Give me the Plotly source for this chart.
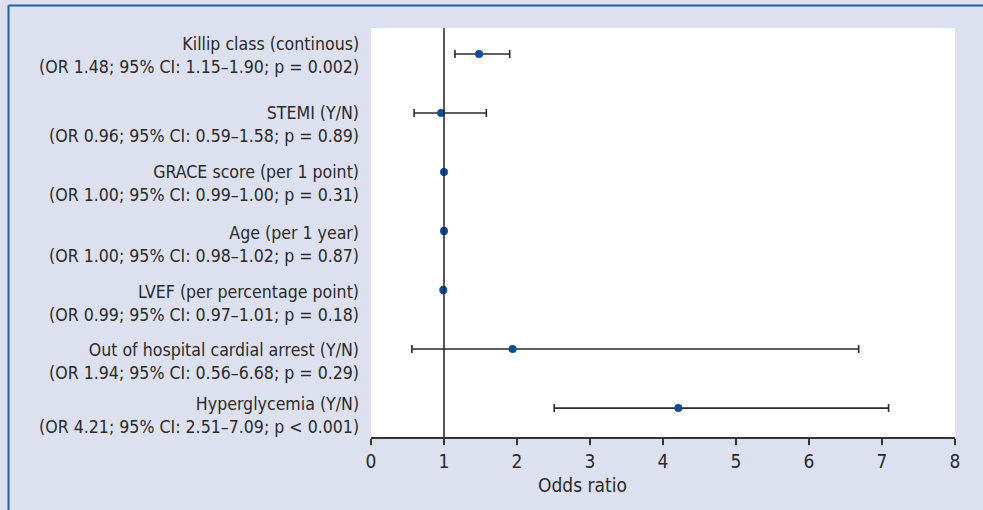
import plotly.graph_objects as go

# ---- data ----
labels = [
    "Killip class (continous)",
    "STEMI (Y/N)",
    "GRACE score (per 1 point)",
    "Age (per 1 year)",
    "LVEF (per percentage point)",
    "Out of hospital cardial arrest (Y/N)",
    "Hyperglycemia (Y/N)",
]
odds = [1.48, 0.96, 1.00, 1.00, 0.99, 1.94, 4.21]
ci_low = [1.15, 0.59, 0.99, 0.98, 0.97, 0.56, 2.51]
ci_high = [1.90, 1.58, 1.00, 1.02, 1.01, 6.68, 7.09]
p_text = ["p = 0.002", "p = 0.89", "p = 0.31", "p = 0.87", "p = 0.18", "p = 0.29", "p < 0.001"]
x_ticks = [0, 1, 2, 3, 4, 5, 6, 7, 8]

FONT = "Liberation Sans Narrow, Arial Narrow, DejaVu Sans Condensed, sans-serif"
W, H = 983, 510
ML, MR, MT, MB = 371, 28, 28, 73
PW, PH = W - ML - MR, H - MT - MB

ypos = list(range(len(labels)))
err_plus = [h - o for h, o in zip(ci_high, odds)]
err_minus = [o - l for o, l in zip(odds, ci_low)]

fig = go.Figure()
fig.add_trace(go.Scatter(
    x=odds, y=ypos, mode="markers",
    marker=dict(color="#0b4f9c", size=8),
    error_x=dict(type="data", symmetric=False, array=err_plus, arrayminus=err_minus,
                 color="#2b2b2b", thickness=1.6, width=4),
    showlegend=False, hoverinfo="skip",
))

label_dy = [-2, -12, -11, -13, -13, -12, -7]
annotations = []
for i, lab in enumerate(labels):
    txt = f"{lab}<br>(OR {odds[i]:.2f}; 95% CI: {ci_low[i]:.2f}\u2013{ci_high[i]:.2f}; {p_text[i]})"
    annotations.append(dict(
        x=0, xref="paper", y=i, yref="y", xshift=-10, yshift=label_dy[i],
        xanchor="right", yanchor="middle", align="right", showarrow=False,
        text=txt, font=dict(family=FONT, size=17.6, color="#2a2a2a"),
    ))


def px_x(p):
    return (p - ML) / PW


def px_y(p):
    return (H - MB - p) / PH


annotations.append(dict(
    x=px_x(582), xref="paper", y=px_y(485), yref="paper",
    xanchor="center", yanchor="middle", showarrow=False, text="Odds ratio",
    font=dict(family=FONT, size=19, color="#2a2a2a"),
))

shapes = [
    dict(type="line", xref="x", yref="paper", x0=1, x1=1, y0=0, y1=1,
         line=dict(color="#222222", width=1.5)),
    dict(type="line", xref="paper", yref="paper", x0=px_x(8.5), x1=px_x(990),
         y0=px_y(5.5), y1=px_y(5.5), line=dict(color="#1f5ea8", width=2)),
    dict(type="line", xref="paper", yref="paper", x0=px_x(8.5), x1=px_x(8.5),
         y0=px_y(5.5), y1=px_y(520), line=dict(color="#1f5ea8", width=2)),
]

fig.update_layout(
    width=W, height=H,
    margin=dict(l=ML, r=MR, t=MT, b=MB),
    paper_bgcolor="#dde1ef", plot_bgcolor="#ffffff",
    font=dict(family=FONT, color="#2a2a2a"),
    xaxis=dict(range=[0, 8], tickvals=x_ticks, ticktext=[str(t) for t in x_ticks],
               showgrid=False, zeroline=False, showline=True, linecolor="#333333",
               linewidth=1.5, ticks="outside", ticklen=6, tickwidth=1.5, tickcolor="#333333",
               tickfont=dict(family=FONT, size=19, color="#2a2a2a")),
    yaxis=dict(range=[6.49, -0.44], showgrid=False, zeroline=False, showline=False,
               showticklabels=False, ticks=""),
    annotations=annotations,
    shapes=shapes,
)

fig.write_html("out.html")
